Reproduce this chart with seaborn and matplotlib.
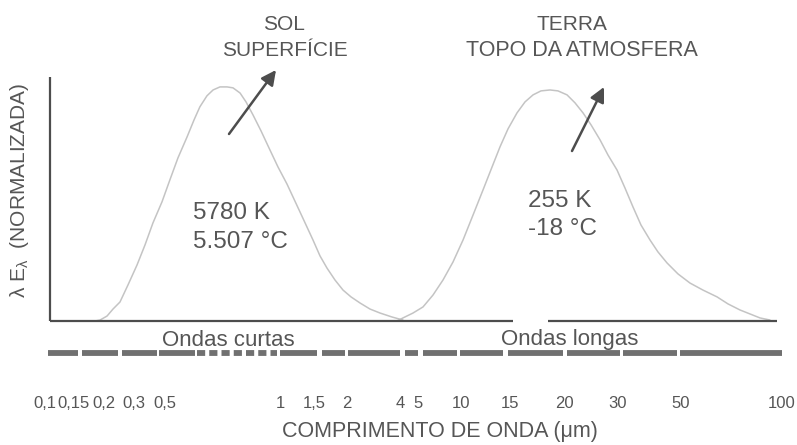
import numpy as np
import pandas as pd
import matplotlib
matplotlib.use("Agg")
import matplotlib.pyplot as plt
import seaborn as sns

# wavelength ticks (um) and where they sit on the schematic (non-uniform) axis
tick_vals = [0.1, 0.15, 0.2, 0.3, 0.5, 1, 1.5, 2, 4, 5, 10, 15, 20, 30, 50, 100]
tick_labels = ["0,1", "0,15", "0,2", "0,3", "0,5", "1", "1,5", "2", "4", "5",
               "10", "15", "20", "30", "50", "100"]
axis_positions = [45, 74, 104, 134, 165, 280, 314, 347, 400, 418, 461, 510, 564, 618, 681, 782]

# Sun spectrum (5780 K), normalised
sol_wl = [0.1835, 0.1925, 0.2083, 0.2259, 0.2482, 0.2766, 0.3152, 0.3597, 0.410, 0.4759,
          0.515, 0.5407, 0.571, 0.5956, 0.617, 0.6439, 0.668, 0.6964, 0.727, 0.7533,
          0.786, 0.8148, 0.850, 0.892, 0.941, 0.988, 1.087, 1.269, 1.482, 1.5806,
          1.680, 1.8014, 1.932, 2.107, 2.37, 2.702, 3.08, 3.603, 4.15]
sol_val = [0.0, 0.004, 0.021, 0.051, 0.081, 0.154, 0.239, 0.325, 0.419, 0.509,
           0.603, 0.697, 0.786, 0.859, 0.915, 0.962, 0.987, 1.0, 1.0, 0.996,
           0.974, 0.936, 0.880, 0.812, 0.731, 0.658, 0.585, 0.466, 0.346, 0.278,
           0.226, 0.175, 0.132, 0.103, 0.077, 0.051, 0.034, 0.017, 0.004]

# Earth spectrum (255 K), normalised
terra_wl = [3.845, 4.15, 4.70, 5.42, 6.37, 7.48, 8.79, 10.17, 11.05, 12.0,
            12.93, 13.81, 14.76, 15.57, 16.25, 16.96, 17.69, 18.56, 19.37, 20.46,
            21.72, 23.07, 24.50, 26.21, 27.83, 29.78, 31.75, 33.88, 36.15, 38.89,
            41.48, 44.64, 48.80, 53.19, 58.14, 64.02, 69.02, 74.96, 80.29, 85.98, 92.1]
terra_val = [0.0, 0.013, 0.034, 0.060, 0.111, 0.175, 0.252, 0.346, 0.453, 0.560,
             0.658, 0.744, 0.821, 0.889, 0.936, 0.966, 0.983, 0.987, 0.983, 0.966,
             0.932, 0.889, 0.838, 0.774, 0.709, 0.645, 0.568, 0.487, 0.410, 0.346,
             0.295, 0.248, 0.201, 0.162, 0.132, 0.103, 0.073, 0.047, 0.030, 0.013, 0.004]

# segments of the grey ruler under the axis (um)
ruler_start = [0.104, 0.162, 0.255, 0.453, 1.0, 1.608, 2.026, 4.26, 5.42, 9.84, 14.76, 20.46, 31.24, 49.6]
ruler_end = [0.156, 0.242, 0.438, 0.599, 1.54, 1.965, 4.0, 5.0, 9.38, 14.16, 19.9, 30.49, 48.4, 100]
ruler_fine = [0.606, 0.982]

# the axis line has a break near 15-18 um
axis_x_start = [0.107, 18.4]
axis_x_end = [15.24, 96.6]

W, H = 797, 445
dark = "#4d4d4d"
txt = "#565656"
curve = "#c4c4c4"

sns.set_theme(style="white")
plt.rcParams["font.family"] = ["Liberation Sans", "DejaVu Sans"]

fig = plt.figure(figsize=(W / 100, H / 100), dpi=100)
ax = fig.add_axes([45 / W, 1 - 360 / H, 737 / W, 300 / H])

log_ticks = np.log10(tick_vals)


def fwd(v):
    v = np.clip(np.asarray(v, dtype=float), 1e-6, None)
    return np.interp(np.log10(v), log_ticks, axis_positions)


def inv(p):
    return 10 ** np.interp(p, axis_positions, log_ticks)


ax.set_xscale("function", functions=(fwd, inv))

sol = pd.DataFrame({"wl": sol_wl, "val": sol_val})
terra = pd.DataFrame({"wl": terra_wl, "val": terra_val})
sns.lineplot(data=sol, x="wl", y="val", color=curve, lw=1.1, ax=ax, sort=False)
sns.lineplot(data=terra, x="wl", y="val", color=curve, lw=1.1, ax=ax, sort=False)

# axes drawn by hand
ax.hlines([0, 0], axis_x_start, axis_x_end, color=dark, lw=1.6)
ax.vlines(axis_x_start[0], 0, 1.043, color=dark, lw=1.6)

# ruler bar
ax.hlines([-0.136] * len(ruler_start), ruler_start, ruler_end, color="#707070", lw=4.2)
ax.hlines(-0.136, ruler_fine[0], ruler_fine[1], color="#707070", lw=4.2,
          linestyles=(0, (1.4, 0.7)))

ax.set_xlim(0.1, 100)
ax.set_ylim(-0.1667, 1.115)
for s in ax.spines.values():
    s.set_visible(False)
ax.set_yticks([])
ax.set_xticks(tick_vals)
ax.set_xticklabels(tick_labels, fontsize=12, color=txt)
ax.tick_params(axis="x", length=0, pad=26)
ax.minorticks_off()
ax.set_xlabel("")
ax.set_ylabel("")


def fp(x, y):
    return (x / W, 1 - y / H)


fig.text(*fp(440, 432), "COMPRIMENTO DE ONDA (μm)", ha="center", va="center",
         fontsize=15.5, color=txt)
fig.text(*fp(20, 190), r"λ E$_{\mathregular{λ}}$  (NORMALIZADA)", rotation=90,
         ha="center", va="center", fontsize=15, color=txt)

fig.text(*fp(284, 24), "SOL", ha="center", va="center", fontsize=15, color=txt)
fig.text(*fp(285, 51), "SUPERFÍCIE", ha="center", va="center", fontsize=15, color=txt)
fig.text(*fp(572, 24), "TERRA", ha="center", va="center", fontsize=15, color=txt)
fig.text(*fp(582, 51), "TOPO DA ATMOSFERA", ha="center", va="center", fontsize=15.5, color=txt)

fig.text(*fp(193, 213), "5780 K", ha="left", va="center", fontsize=17.5, color=txt)
fig.text(*fp(193, 242), "5.507 °C", ha="left", va="center", fontsize=17.5, color=txt)
fig.text(*fp(528, 201), "255 K", ha="left", va="center", fontsize=17.5, color=txt)
fig.text(*fp(528, 229), "-18 °C", ha="left", va="center", fontsize=17.5, color=txt)

fig.text(*fp(228, 340), "Ondas curtas", ha="center", va="center", fontsize=16, color=txt)
fig.text(*fp(570, 340), "Ondas longas", ha="center", va="center", fontsize=16, color=txt)

arrow = dict(arrowstyle="-|>", color=dark, lw=1.8, mutation_scale=22, shrinkA=0, shrinkB=0)
ax.annotate("", xy=fp(276, 70), xytext=fp(229, 134), xycoords="figure fraction",
            textcoords="figure fraction", arrowprops=arrow)
ax.annotate("", xy=fp(604, 87), xytext=fp(572, 151), xycoords="figure fraction",
            textcoords="figure fraction", arrowprops=arrow)

fig.savefig("out.png", dpi=100)
